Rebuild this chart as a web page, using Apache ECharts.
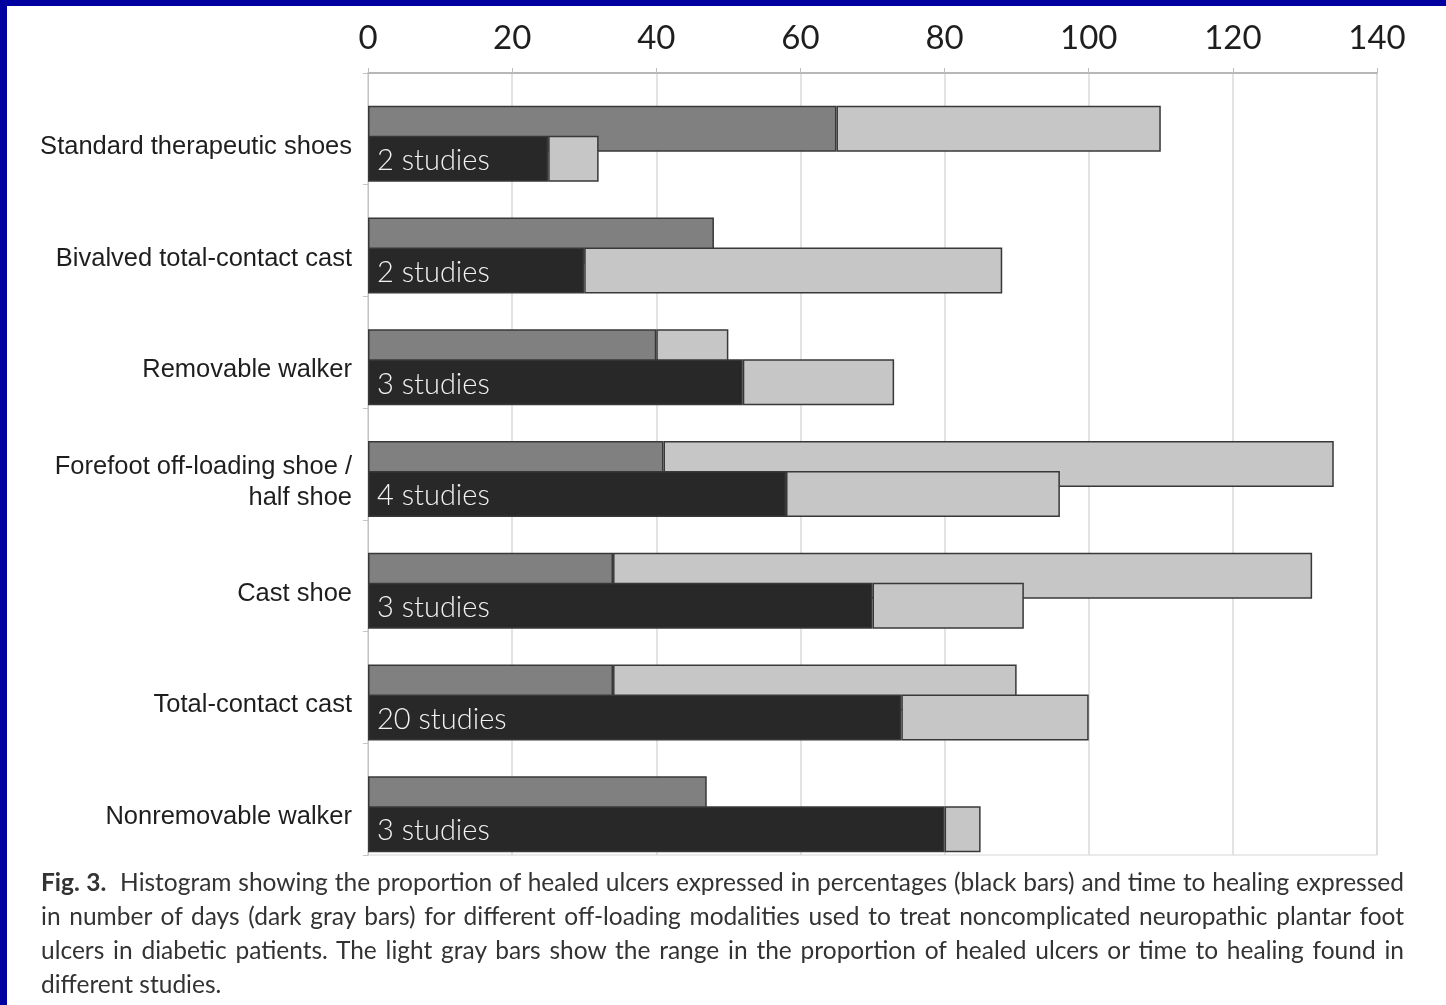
<!DOCTYPE html>
<html>
<head>
<meta charset="utf-8">
<script src="https://cdn.jsdelivr.net/npm/echarts@6/dist/echarts.min.js"></script>
<style>
  html, body { margin: 0; padding: 0; background: #fff; }
  #frame-top { position: absolute; left: 0; top: 0; width: 1446px; height: 6px; background: #0000a0; }
  #frame-left { position: absolute; left: 0; top: 0; width: 7px; height: 1005px; background: #0000a0; }
  #chart { position: absolute; left: 0; top: 0; width: 1446px; height: 1005px; }
  #caption {
    position: absolute; left: 41px; top: 865px; width: 1363px;
    font-family: Lato, "Open Sans", sans-serif; font-size: 24.5px; line-height: 34px; color: #333;
  }
  #caption div { white-space: nowrap; }
  #caption .full { text-align: justify; text-align-last: justify; }
  #caption span { display: inline-block; }
</style>
</head>
<body>
<div id="chart"></div>
<div id="frame-top"></div>
<div id="frame-left"></div>
<div id="caption">
  <div class="full"><b>Fig. 3.</b>&nbsp; Histogram showing the proportion of healed ulcers expressed in percentages (black bars) and time to healing expressed</div>
  <div class="full">in number of days (dark gray bars) for different off-loading modalities used to treat noncomplicated neuropathic plantar foot</div>
  <div class="full">ulcers in diabetic patients. The light gray bars show the range in the proportion of healed ulcers or time to healing found in</div>
  <div>different studies.</div>
</div>
<script>
// categories, top to bottom
const categories = [
  'Standard therapeutic shoes',
  'Bivalved total-contact cast',
  'Removable walker',
  'Forefoot off-loading shoe /\nhalf shoe',
  'Cast shoe',
  'Total-contact cast',
  'Nonremovable walker'
];
const studies = [2, 2, 3, 4, 3, 20, 3];

// time to healing (days): value and upper end of range
const daysValue = [65, 48, 40, 41, 34, 34, 47];
const daysMax = [110, 48, 50, 134, 131, 90, 47];

// proportion healed (%): value and upper end of range
const pctValue = [25, 30, 52, 58, 70, 74, 80];
const pctMax = [32, 88, 73, 96, 91, 100, 85];

const xTicks = { min: 0, max: 140, interval: 20 };

const rangeOf = (vals, maxes) => maxes.map((m, i) => (m - vals[i] > 0 ? m - vals[i] : '-'));

const border = { borderColor: '#383838', borderWidth: 1.5 };
const BAR_W = 46;
const GAP = '-34.8%';

const chart = echarts.init(document.getElementById('chart'));

chart.setOption({
  animation: false,
  grid: {
    left: 368, right: 69, top: 73, bottom: 150,
    show: true, borderColor: '#d6d6d6', borderWidth: 1
  },
  xAxis: {
    type: 'value',
    position: 'top',
    min: xTicks.min, max: xTicks.max, interval: xTicks.interval,
    axisLine: { show: true, lineStyle: { color: '#a8a8a8', width: 1.5 } },
    axisTick: { show: true, length: 5, lineStyle: { color: '#bdbdbd' } },
    splitLine: { show: true, lineStyle: { color: '#dadada', width: 1.5 } },
    axisLabel: {
      fontFamily: 'Lato, "Open Sans", sans-serif', fontSize: 33,
      color: '#1e1e1e', margin: 18
    }
  },
  yAxis: {
    type: 'category',
    inverse: true,
    data: categories,
    axisLine: { show: true, lineStyle: { color: '#c4c4c4' } },
    axisTick: { show: true, length: 5, lineStyle: { color: '#c4c4c4' } },
    axisLabel: {
      fontFamily: '"Liberation Sans", Arial, sans-serif', fontSize: 25.5,
      color: '#1e1e1e', margin: 16, lineHeight: 31,
      // spacer line pushes the label a little below the band centre
      formatter: v => '{s| }\n' + v,
      rich: { s: { lineHeight: 36, fontSize: 10 } }
    }
  },
  series: [
    {
      // empty slot so the two visible bars sit low in each band
      name: 'pad', type: 'bar', stack: 'pad', silent: true,
      barWidth: BAR_W, barGap: GAP,
      itemStyle: { color: 'rgba(0,0,0,0)' },
      data: categories.map(() => '-')
    },
    {
      name: 'Days', type: 'bar', stack: 'days',
      barWidth: BAR_W, barGap: GAP,
      itemStyle: Object.assign({ color: '#808080' }, border),
      data: daysValue
    },
    {
      name: 'Days range', type: 'bar', stack: 'days',
      barWidth: BAR_W, barGap: GAP,
      itemStyle: Object.assign({ color: '#c6c6c6' }, border),
      data: rangeOf(daysValue, daysMax)
    },
    {
      name: 'Healed %', type: 'bar', stack: 'pct',
      barWidth: BAR_W, barGap: GAP,
      itemStyle: Object.assign({ color: '#282828' }, border),
      label: {
        show: true, position: 'insideLeft', distance: 9, offset: [0, 2],
        formatter: p => studies[p.dataIndex] + ' studies',
        color: '#f2f2f2', fontFamily: 'Lato, "Open Sans", sans-serif',
        fontSize: 29, fontWeight: 300
      },
      data: pctValue
    },
    {
      name: 'Healed % range', type: 'bar', stack: 'pct',
      barWidth: BAR_W, barGap: GAP,
      itemStyle: Object.assign({ color: '#c6c6c6' }, border),
      data: rangeOf(pctValue, pctMax)
    }
  ]
});

// squeeze caption lines that are wider than the text block
const target = 1363;
document.querySelectorAll('#caption .full').forEach(line => {
  const probe = document.createElement('span');
  probe.innerHTML = line.innerHTML;
  line.innerHTML = '';
  line.appendChild(probe);
  const w = probe.getBoundingClientRect().width;
  const text = probe.textContent;
  line.innerHTML = probe.innerHTML;
  if (w > target) {
    line.style.letterSpacing = ((target - w) / text.length).toFixed(3) + 'px';
  }
});

window.addEventListener('resize', () => chart.resize());
</script>
</body>
</html>
